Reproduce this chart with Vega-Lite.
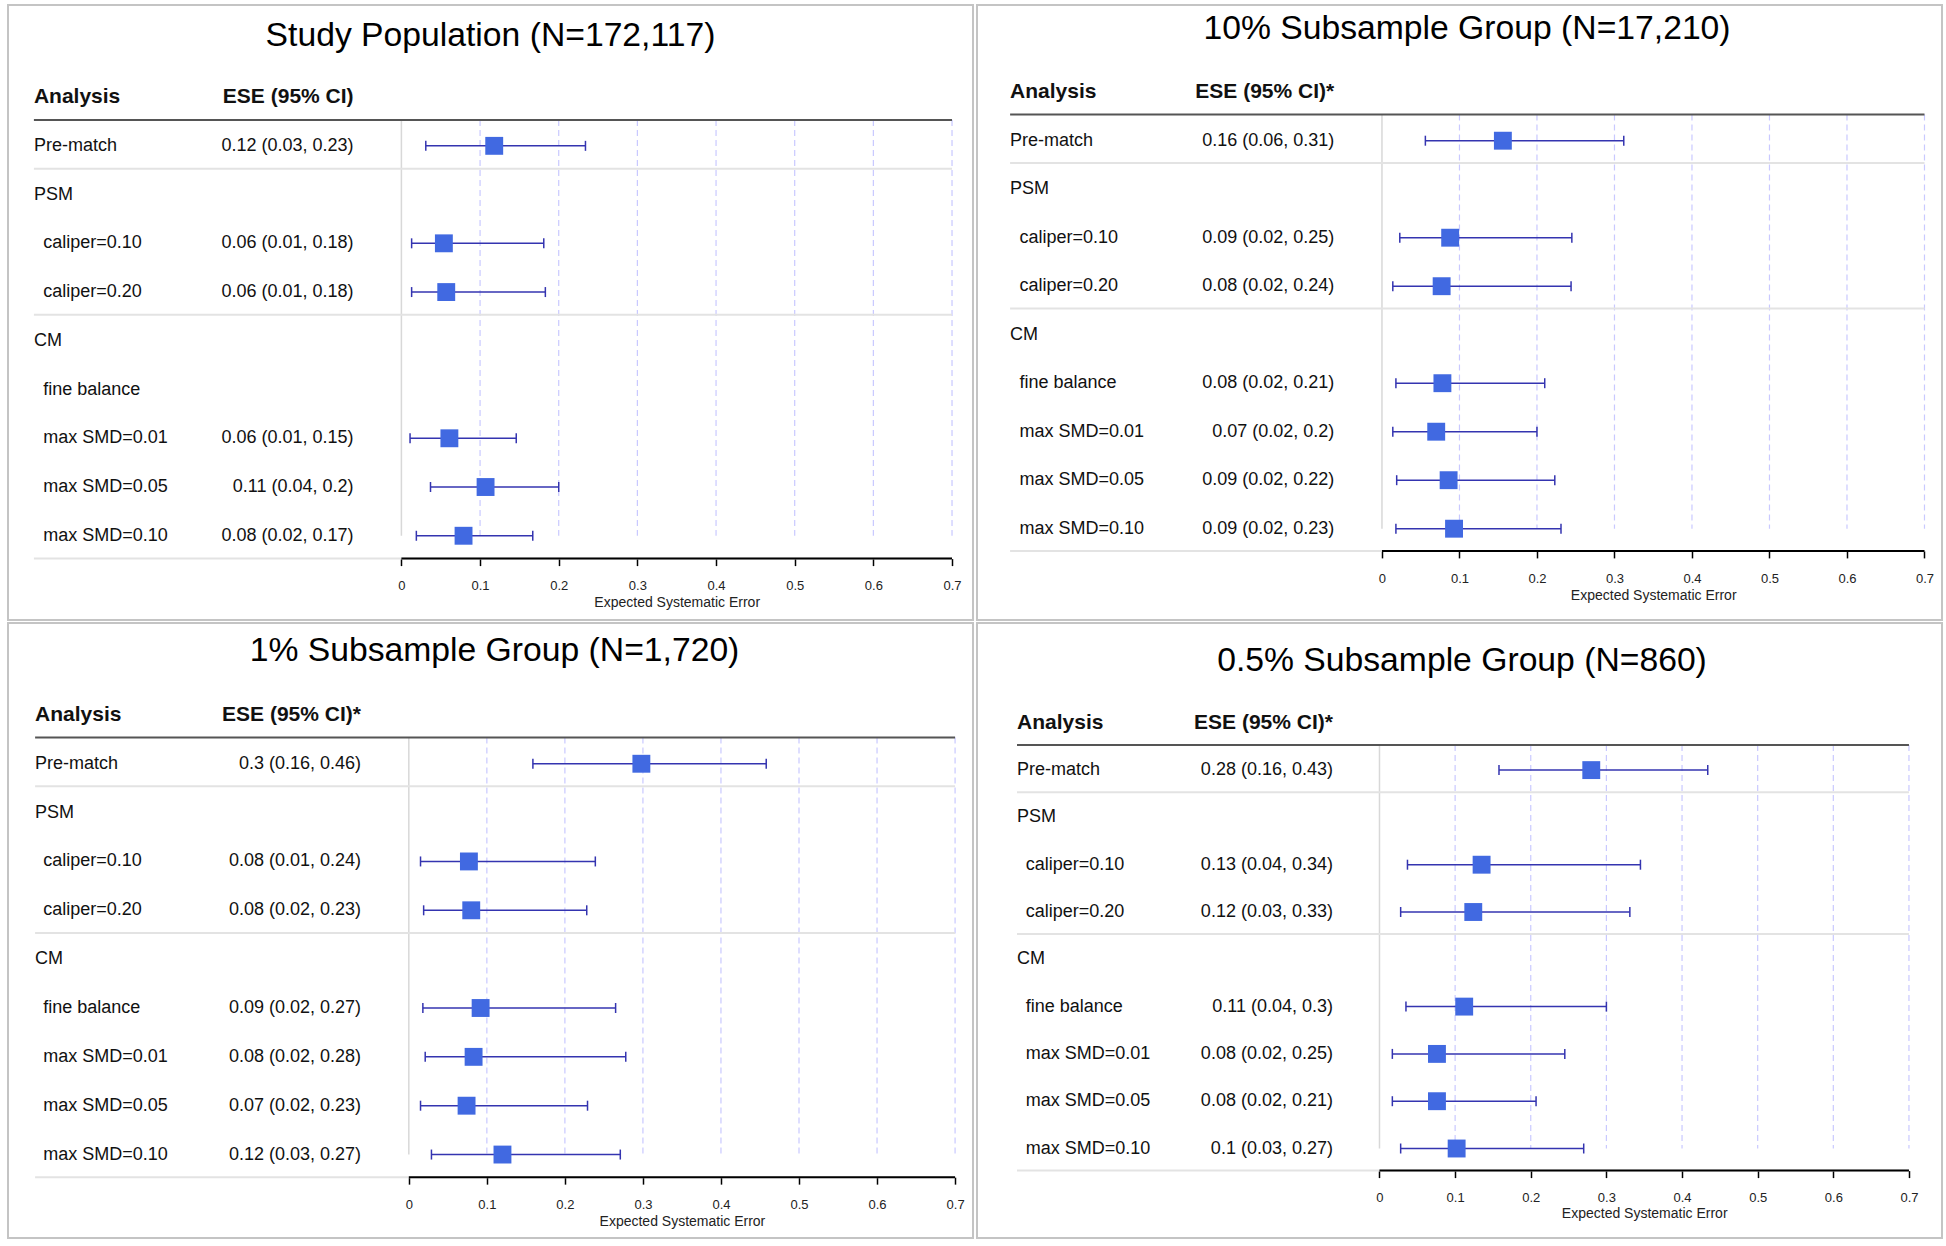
{
  "$schema": "https://vega.github.io/schema/vega-lite/v6.json",
  "padding": {"left": 7, "top": 4, "right": 0, "bottom": 0},
  "background": "white",
  "config": {
    "font": "Liberation Sans",
    "view": {"stroke": "#c4c4c4", "strokeWidth": 2},
    "title": {"fontSize": 33.7, "fontWeight": "normal", "font": "Liberation Sans", "color": "#000", "anchor": "middle"},
    "text": {"font": "Liberation Sans", "fontSize": 18, "color": "#111"}
  },
  "datasets": {
    "ticks": [{"v": 0}, {"v": 0.1}, {"v": 0.2}, {"v": 0.3}, {"v": 0.4}, {"v": 0.5}, {"v": 0.6}, {"v": 0.7}],
    "seps": [{"after": 0}, {"after": 1}, {"after": 4}, {"after": 9}],
    "study": [
      {"row": 0, "level": -1, "label": "Analysis", "ese": "ESE (95% CI)"},
      {"row": 1, "level": 0, "label": "Pre-match", "ese": "0.12 (0.03, 0.23)", "est": 0.118, "lo": 0.031, "hi": 0.234},
      {"row": 2, "level": 0, "label": "PSM"},
      {"row": 3, "level": 1, "label": "caliper=0.10", "ese": "0.06 (0.01, 0.18)", "est": 0.054, "lo": 0.013, "hi": 0.181},
      {"row": 4, "level": 1, "label": "caliper=0.20", "ese": "0.06 (0.01, 0.18)", "est": 0.057, "lo": 0.013, "hi": 0.183},
      {"row": 5, "level": 0, "label": "CM"},
      {"row": 6, "level": 1, "label": "fine balance"},
      {"row": 7, "level": 1, "label": "max SMD=0.01", "ese": "0.06 (0.01, 0.15)", "est": 0.061, "lo": 0.011, "hi": 0.146},
      {"row": 8, "level": 1, "label": "max SMD=0.05", "ese": "0.11 (0.04, 0.2)", "est": 0.107, "lo": 0.037, "hi": 0.200},
      {"row": 9, "level": 1, "label": "max SMD=0.10", "ese": "0.08 (0.02, 0.17)", "est": 0.079, "lo": 0.019, "hi": 0.167}
    ],
    "p10": [
      {"row": 0, "level": -1, "label": "Analysis", "ese": "ESE (95% CI)*"},
      {"row": 1, "level": 0, "label": "Pre-match", "ese": "0.16 (0.06, 0.31)", "est": 0.156, "lo": 0.056, "hi": 0.312},
      {"row": 2, "level": 0, "label": "PSM"},
      {"row": 3, "level": 1, "label": "caliper=0.10", "ese": "0.09 (0.02, 0.25)", "est": 0.088, "lo": 0.023, "hi": 0.245},
      {"row": 4, "level": 1, "label": "caliper=0.20", "ese": "0.08 (0.02, 0.24)", "est": 0.077, "lo": 0.014, "hi": 0.244},
      {"row": 5, "level": 0, "label": "CM"},
      {"row": 6, "level": 1, "label": "fine balance", "ese": "0.08 (0.02, 0.21)", "est": 0.078, "lo": 0.018, "hi": 0.210},
      {"row": 7, "level": 1, "label": "max SMD=0.01", "ese": "0.07 (0.02, 0.2)", "est": 0.070, "lo": 0.014, "hi": 0.200},
      {"row": 8, "level": 1, "label": "max SMD=0.05", "ese": "0.09 (0.02, 0.22)", "est": 0.086, "lo": 0.019, "hi": 0.223},
      {"row": 9, "level": 1, "label": "max SMD=0.10", "ese": "0.09 (0.02, 0.23)", "est": 0.093, "lo": 0.018, "hi": 0.231}
    ],
    "p1": [
      {"row": 0, "level": -1, "label": "Analysis", "ese": "ESE (95% CI)*"},
      {"row": 1, "level": 0, "label": "Pre-match", "ese": "0.3 (0.16, 0.46)", "est": 0.298, "lo": 0.159, "hi": 0.458},
      {"row": 2, "level": 0, "label": "PSM"},
      {"row": 3, "level": 1, "label": "caliper=0.10", "ese": "0.08 (0.01, 0.24)", "est": 0.077, "lo": 0.015, "hi": 0.239},
      {"row": 4, "level": 1, "label": "caliper=0.20", "ese": "0.08 (0.02, 0.23)", "est": 0.080, "lo": 0.019, "hi": 0.228},
      {"row": 5, "level": 0, "label": "CM"},
      {"row": 6, "level": 1, "label": "fine balance", "ese": "0.09 (0.02, 0.27)", "est": 0.092, "lo": 0.018, "hi": 0.265},
      {"row": 7, "level": 1, "label": "max SMD=0.01", "ese": "0.08 (0.02, 0.28)", "est": 0.083, "lo": 0.021, "hi": 0.278},
      {"row": 8, "level": 1, "label": "max SMD=0.05", "ese": "0.07 (0.02, 0.23)", "est": 0.074, "lo": 0.015, "hi": 0.229},
      {"row": 9, "level": 1, "label": "max SMD=0.10", "ese": "0.12 (0.03, 0.27)", "est": 0.120, "lo": 0.029, "hi": 0.271}
    ],
    "p05": [
      {"row": 0, "level": -1, "label": "Analysis", "ese": "ESE (95% CI)*"},
      {"row": 1, "level": 0, "label": "Pre-match", "ese": "0.28 (0.16, 0.43)", "est": 0.280, "lo": 0.158, "hi": 0.434},
      {"row": 2, "level": 0, "label": "PSM"},
      {"row": 3, "level": 1, "label": "caliper=0.10", "ese": "0.13 (0.04, 0.34)", "est": 0.135, "lo": 0.037, "hi": 0.345},
      {"row": 4, "level": 1, "label": "caliper=0.20", "ese": "0.12 (0.03, 0.33)", "est": 0.124, "lo": 0.028, "hi": 0.331},
      {"row": 5, "level": 0, "label": "CM"},
      {"row": 6, "level": 1, "label": "fine balance", "ese": "0.11 (0.04, 0.3)", "est": 0.112, "lo": 0.035, "hi": 0.300},
      {"row": 7, "level": 1, "label": "max SMD=0.01", "ese": "0.08 (0.02, 0.25)", "est": 0.076, "lo": 0.017, "hi": 0.245},
      {"row": 8, "level": 1, "label": "max SMD=0.05", "ese": "0.08 (0.02, 0.21)", "est": 0.076, "lo": 0.017, "hi": 0.207},
      {"row": 9, "level": 1, "label": "max SMD=0.10", "ese": "0.1 (0.03, 0.27)", "est": 0.102, "lo": 0.028, "hi": 0.270}
    ]
  },
  "spacing": 1,
  "vconcat": [
    {
      "spacing": 2,
      "hconcat": [
        {
          "width": 965, "height": 615,
          "title": {"text": "Study Population (N=172,117)", "offset": -47.3, "dx": 0},
          "data": {"name": "study"},
          "layer": [
            {"data": {"name": "ticks"}, "transform": [{"filter": "datum.v > 0"}],
             "mark": {"type": "rule", "color": "#C9C9FF", "strokeDash": [6, 4], "strokeWidth": 1.2, "yOffset": 22.8},
             "encoding": {
               "x": {"field": "v", "type": "quantitative", "scale": {"domain": [-0.50013, 0.72667], "nice": false, "zero": false, "padding": 0},
                 "axis": {"values": [0, 0.1, 0.2, 0.3, 0.4, 0.5, 0.6, 0.7], "format": "~g", "domain": false, "grid": false, "ticks": true, "tickSize": 7, "tickColor": "#000", "tickWidth": 1.5, "labelFontSize": 13, "labelColor": "#222", "labelPadding": 14.2, "labelFlush": false, "labelOverlap": false, "offset": -61.4, "title": "Expected Systematic Error", "titleFontSize": 14, "titleFontWeight": "normal", "titleColor": "#222", "titleX": 668.7, "titleY": 44.2, "titleAlign": "center", "titleBaseline": "middle"}},
               "y": {"datum": 0, "type": "quantitative", "scale": {"domain": [-1.8896, 10.7283], "reverse": true, "nice": false, "zero": false}, "axis": null},
               "y2": {"datum": 9}
             }},
            {"data": {"name": "ticks"}, "transform": [{"filter": "datum.v == 0"}],
             "mark": {"type": "rule", "color": "#D8D8D8", "strokeWidth": 1.5, "yOffset": 22.8},
             "encoding": {"x": {"field": "v", "type": "quantitative"}, "y": {"datum": 0, "type": "quantitative", "axis": null}, "y2": {"datum": 9}}},
            {"data": {"name": "seps"}, "transform": [{"filter": "datum.after > 0"}],
             "mark": {"type": "rule", "color": "#E3E3E3", "strokeWidth": 2, "yOffset": 22.8},
             "encoding": {"x": {"datum": -0.4672, "type": "quantitative"}, "x2": {"datum": 0.7}, "y": {"field": "after", "type": "quantitative", "axis": null}}},
            {"data": {"name": "seps"}, "transform": [{"filter": "datum.after == 0"}],
             "mark": {"type": "rule", "color": "#555555", "strokeWidth": 2, "yOffset": 22.8},
             "encoding": {"x": {"datum": -0.4672, "type": "quantitative"}, "x2": {"datum": 0.7}, "y": {"field": "after", "type": "quantitative", "axis": null}}},
            {"data": {"name": "seps"}, "transform": [{"filter": "datum.after == 9"}],
             "mark": {"type": "rule", "color": "#000", "strokeWidth": 2, "yOffset": 22.8},
             "encoding": {"x": {"datum": 0, "type": "quantitative"}, "x2": {"datum": 0.7}, "y": {"field": "after", "type": "quantitative", "axis": null}}},
            {"transform": [{"filter": "isValid(datum.est)"}],
             "mark": {"type": "rule", "color": "#3434B0", "strokeWidth": 1.5},
             "encoding": {"x": {"field": "lo", "type": "quantitative"}, "x2": {"field": "hi"}, "y": {"field": "row", "type": "quantitative", "axis": null}}},
            {"transform": [{"filter": "isValid(datum.est)"}],
             "mark": {"type": "point", "shape": "M0,-1L0,1", "size": 100, "filled": false, "stroke": "#3434B0", "strokeWidth": 1.5, "opacity": 1},
             "encoding": {"x": {"field": "lo", "type": "quantitative"}, "y": {"field": "row", "type": "quantitative", "axis": null}}},
            {"transform": [{"filter": "isValid(datum.est)"}],
             "mark": {"type": "point", "shape": "M0,-1L0,1", "size": 100, "filled": false, "stroke": "#3434B0", "strokeWidth": 1.5, "opacity": 1},
             "encoding": {"x": {"field": "hi", "type": "quantitative"}, "y": {"field": "row", "type": "quantitative", "axis": null}}},
            {"transform": [{"filter": "isValid(datum.est)"}],
             "mark": {"type": "point", "shape": "square", "filled": true, "size": 320, "color": "#4169E1", "opacity": 1},
             "encoding": {"x": {"field": "est", "type": "quantitative"}, "y": {"field": "row", "type": "quantitative", "axis": null}}},
            {"transform": [{"filter": "datum.level == -1"}],
             "mark": {"type": "text", "align": "left", "baseline": "middle", "fontSize": 21, "fontWeight": "bold"},
             "encoding": {"x": {"datum": -0.4672, "type": "quantitative"}, "y": {"field": "row", "type": "quantitative", "axis": null}, "text": {"field": "label"}}},
            {"transform": [{"filter": "datum.level == -1"}],
             "mark": {"type": "text", "align": "right", "baseline": "middle", "fontSize": 21, "fontWeight": "bold"},
             "encoding": {"x": {"datum": -0.0608, "type": "quantitative"}, "y": {"field": "row", "type": "quantitative", "axis": null}, "text": {"field": "ese"}}},
            {"transform": [{"filter": "datum.level == 0"}],
             "mark": {"type": "text", "align": "left", "baseline": "middle"},
             "encoding": {"x": {"datum": -0.4672, "type": "quantitative"}, "y": {"field": "row", "type": "quantitative", "axis": null}, "text": {"field": "label"}}},
            {"transform": [{"filter": "datum.level == 1"}],
             "mark": {"type": "text", "align": "left", "baseline": "middle"},
             "encoding": {"x": {"datum": -0.4554, "type": "quantitative"}, "y": {"field": "row", "type": "quantitative", "axis": null}, "text": {"field": "label"}}},
            {"transform": [{"filter": "datum.level >= 0 && isValid(datum.ese)"}],
             "mark": {"type": "text", "align": "right", "baseline": "middle"},
             "encoding": {"x": {"datum": -0.0608, "type": "quantitative"}, "y": {"field": "row", "type": "quantitative", "axis": null}, "text": {"field": "ese"}}}
          ]
        },
        {
          "width": 965, "height": 615,
          "title": {"text": "10% Subsample Group (N=17,210)", "offset": -40.2, "dx": 7.5},
          "data": {"name": "p10"},
          "layer": [
            {"data": {"name": "ticks"}, "transform": [{"filter": "datum.v > 0"}],
             "mark": {"type": "rule", "color": "#C9C9FF", "strokeDash": [6, 4], "strokeWidth": 1.2, "yOffset": 22.2},
             "encoding": {
               "x": {"field": "v", "type": "quantitative", "scale": {"domain": [-0.52251, 0.72260], "nice": false, "zero": false, "padding": 0},
                 "axis": {"values": [0, 0.1, 0.2, 0.3, 0.4, 0.5, 0.6, 0.7], "format": "~g", "domain": false, "grid": false, "ticks": true, "tickSize": 7, "tickColor": "#000", "tickWidth": 1.5, "labelFontSize": 13, "labelColor": "#222", "labelPadding": 14.8, "labelFlush": false, "labelOverlap": false, "offset": -69.1, "title": "Expected Systematic Error", "titleFontSize": 14, "titleFontWeight": "normal", "titleColor": "#222", "titleX": 676.2, "titleY": 44.1, "titleAlign": "center", "titleBaseline": "middle"}},
               "y": {"datum": 0, "type": "quantitative", "scale": {"domain": [-1.798, 10.8825], "reverse": true, "nice": false, "zero": false}, "axis": null},
               "y2": {"datum": 9}
             }},
            {"data": {"name": "ticks"}, "transform": [{"filter": "datum.v == 0"}],
             "mark": {"type": "rule", "color": "#D8D8D8", "strokeWidth": 1.5, "yOffset": 22.2},
             "encoding": {"x": {"field": "v", "type": "quantitative"}, "y": {"datum": 0, "type": "quantitative", "axis": null}, "y2": {"datum": 9}}},
            {"data": {"name": "seps"}, "transform": [{"filter": "datum.after > 0"}],
             "mark": {"type": "rule", "color": "#E3E3E3", "strokeWidth": 2, "yOffset": 22.2},
             "encoding": {"x": {"datum": -0.4798, "type": "quantitative"}, "x2": {"datum": 0.7}, "y": {"field": "after", "type": "quantitative", "axis": null}}},
            {"data": {"name": "seps"}, "transform": [{"filter": "datum.after == 0"}],
             "mark": {"type": "rule", "color": "#555555", "strokeWidth": 2, "yOffset": 22.2},
             "encoding": {"x": {"datum": -0.4798, "type": "quantitative"}, "x2": {"datum": 0.7}, "y": {"field": "after", "type": "quantitative", "axis": null}}},
            {"data": {"name": "seps"}, "transform": [{"filter": "datum.after == 9"}],
             "mark": {"type": "rule", "color": "#000", "strokeWidth": 2, "yOffset": 22.2},
             "encoding": {"x": {"datum": 0, "type": "quantitative"}, "x2": {"datum": 0.7}, "y": {"field": "after", "type": "quantitative", "axis": null}}},
            {"transform": [{"filter": "isValid(datum.est)"}],
             "mark": {"type": "rule", "color": "#3434B0", "strokeWidth": 1.5},
             "encoding": {"x": {"field": "lo", "type": "quantitative"}, "x2": {"field": "hi"}, "y": {"field": "row", "type": "quantitative", "axis": null}}},
            {"transform": [{"filter": "isValid(datum.est)"}],
             "mark": {"type": "point", "shape": "M0,-1L0,1", "size": 100, "filled": false, "stroke": "#3434B0", "strokeWidth": 1.5, "opacity": 1},
             "encoding": {"x": {"field": "lo", "type": "quantitative"}, "y": {"field": "row", "type": "quantitative", "axis": null}}},
            {"transform": [{"filter": "isValid(datum.est)"}],
             "mark": {"type": "point", "shape": "M0,-1L0,1", "size": 100, "filled": false, "stroke": "#3434B0", "strokeWidth": 1.5, "opacity": 1},
             "encoding": {"x": {"field": "hi", "type": "quantitative"}, "y": {"field": "row", "type": "quantitative", "axis": null}}},
            {"transform": [{"filter": "isValid(datum.est)"}],
             "mark": {"type": "point", "shape": "square", "filled": true, "size": 320, "color": "#4169E1", "opacity": 1},
             "encoding": {"x": {"field": "est", "type": "quantitative"}, "y": {"field": "row", "type": "quantitative", "axis": null}}},
            {"transform": [{"filter": "datum.level == -1"}],
             "mark": {"type": "text", "align": "left", "baseline": "middle", "fontSize": 21, "fontWeight": "bold"},
             "encoding": {"x": {"datum": -0.4798, "type": "quantitative"}, "y": {"field": "row", "type": "quantitative", "axis": null}, "text": {"field": "label"}}},
            {"transform": [{"filter": "datum.level == -1"}],
             "mark": {"type": "text", "align": "right", "baseline": "middle", "fontSize": 21, "fontWeight": "bold"},
             "encoding": {"x": {"datum": -0.0616, "type": "quantitative"}, "y": {"field": "row", "type": "quantitative", "axis": null}, "text": {"field": "ese"}}},
            {"transform": [{"filter": "datum.level == 0"}],
             "mark": {"type": "text", "align": "left", "baseline": "middle"},
             "encoding": {"x": {"datum": -0.4798, "type": "quantitative"}, "y": {"field": "row", "type": "quantitative", "axis": null}, "text": {"field": "label"}}},
            {"transform": [{"filter": "datum.level == 1"}],
             "mark": {"type": "text", "align": "left", "baseline": "middle"},
             "encoding": {"x": {"datum": -0.4677, "type": "quantitative"}, "y": {"field": "row", "type": "quantitative", "axis": null}, "text": {"field": "label"}}},
            {"transform": [{"filter": "datum.level >= 0 && isValid(datum.ese)"}],
             "mark": {"type": "text", "align": "right", "baseline": "middle"},
             "encoding": {"x": {"datum": -0.0616, "type": "quantitative"}, "y": {"field": "row", "type": "quantitative", "axis": null}, "text": {"field": "ese"}}}
          ]
        }
      ]
    },
    {
      "spacing": 2,
      "hconcat": [
        {
          "width": 965, "height": 615,
          "title": {"text": "1% Subsample Group (N=1,720)", "offset": -44.4, "dx": 4},
          "data": {"name": "p1"},
          "layer": [
            {"data": {"name": "ticks"}, "transform": [{"filter": "datum.v > 0"}],
             "mark": {"type": "rule", "color": "#C9C9FF", "strokeDash": [6, 4], "strokeWidth": 1.2, "yOffset": 22.6},
             "encoding": {
               "x": {"field": "v", "type": "quantitative", "scale": {"domain": [-0.51363, 0.72297], "nice": false, "zero": false, "padding": 0},
                 "axis": {"values": [0, 0.1, 0.2, 0.3, 0.4, 0.5, 0.6, 0.7], "format": "~g", "domain": false, "grid": false, "ticks": true, "tickSize": 7, "tickColor": "#000", "tickWidth": 1.5, "labelFontSize": 13, "labelColor": "#222", "labelPadding": 14, "labelFlush": false, "labelOverlap": false, "offset": -60.85, "title": "Expected Systematic Error", "titleFontSize": 14, "titleFontWeight": "normal", "titleColor": "#222", "titleX": 673.9, "titleY": 44.6, "titleAlign": "center", "titleBaseline": "middle"}},
               "y": {"datum": 0, "type": "quantitative", "scale": {"domain": [-1.8813, 10.7083], "reverse": true, "nice": false, "zero": false}, "axis": null},
               "y2": {"datum": 9}
             }},
            {"data": {"name": "ticks"}, "transform": [{"filter": "datum.v == 0"}],
             "mark": {"type": "rule", "color": "#D8D8D8", "strokeWidth": 1.5, "yOffset": 22.6},
             "encoding": {"x": {"field": "v", "type": "quantitative"}, "y": {"datum": 0, "type": "quantitative", "axis": null}, "y2": {"datum": 9}}},
            {"data": {"name": "seps"}, "transform": [{"filter": "datum.after > 0"}],
             "mark": {"type": "rule", "color": "#E3E3E3", "strokeWidth": 2, "yOffset": 22.6},
             "encoding": {"x": {"datum": -0.4789, "type": "quantitative"}, "x2": {"datum": 0.7}, "y": {"field": "after", "type": "quantitative", "axis": null}}},
            {"data": {"name": "seps"}, "transform": [{"filter": "datum.after == 0"}],
             "mark": {"type": "rule", "color": "#555555", "strokeWidth": 2, "yOffset": 22.6},
             "encoding": {"x": {"datum": -0.4789, "type": "quantitative"}, "x2": {"datum": 0.7}, "y": {"field": "after", "type": "quantitative", "axis": null}}},
            {"data": {"name": "seps"}, "transform": [{"filter": "datum.after == 9"}],
             "mark": {"type": "rule", "color": "#000", "strokeWidth": 2, "yOffset": 22.6},
             "encoding": {"x": {"datum": 0, "type": "quantitative"}, "x2": {"datum": 0.7}, "y": {"field": "after", "type": "quantitative", "axis": null}}},
            {"transform": [{"filter": "isValid(datum.est)"}],
             "mark": {"type": "rule", "color": "#3434B0", "strokeWidth": 1.5},
             "encoding": {"x": {"field": "lo", "type": "quantitative"}, "x2": {"field": "hi"}, "y": {"field": "row", "type": "quantitative", "axis": null}}},
            {"transform": [{"filter": "isValid(datum.est)"}],
             "mark": {"type": "point", "shape": "M0,-1L0,1", "size": 100, "filled": false, "stroke": "#3434B0", "strokeWidth": 1.5, "opacity": 1},
             "encoding": {"x": {"field": "lo", "type": "quantitative"}, "y": {"field": "row", "type": "quantitative", "axis": null}}},
            {"transform": [{"filter": "isValid(datum.est)"}],
             "mark": {"type": "point", "shape": "M0,-1L0,1", "size": 100, "filled": false, "stroke": "#3434B0", "strokeWidth": 1.5, "opacity": 1},
             "encoding": {"x": {"field": "hi", "type": "quantitative"}, "y": {"field": "row", "type": "quantitative", "axis": null}}},
            {"transform": [{"filter": "isValid(datum.est)"}],
             "mark": {"type": "point", "shape": "square", "filled": true, "size": 320, "color": "#4169E1", "opacity": 1},
             "encoding": {"x": {"field": "est", "type": "quantitative"}, "y": {"field": "row", "type": "quantitative", "axis": null}}},
            {"transform": [{"filter": "datum.level == -1"}],
             "mark": {"type": "text", "align": "left", "baseline": "middle", "fontSize": 21, "fontWeight": "bold"},
             "encoding": {"x": {"datum": -0.4789, "type": "quantitative"}, "y": {"field": "row", "type": "quantitative", "axis": null}, "text": {"field": "label"}}},
            {"transform": [{"filter": "datum.level == -1"}],
             "mark": {"type": "text", "align": "right", "baseline": "middle", "fontSize": 21, "fontWeight": "bold"},
             "encoding": {"x": {"datum": -0.0613, "type": "quantitative"}, "y": {"field": "row", "type": "quantitative", "axis": null}, "text": {"field": "ese"}}},
            {"transform": [{"filter": "datum.level == 0"}],
             "mark": {"type": "text", "align": "left", "baseline": "middle"},
             "encoding": {"x": {"datum": -0.4789, "type": "quantitative"}, "y": {"field": "row", "type": "quantitative", "axis": null}, "text": {"field": "label"}}},
            {"transform": [{"filter": "datum.level == 1"}],
             "mark": {"type": "text", "align": "left", "baseline": "middle"},
             "encoding": {"x": {"datum": -0.4685, "type": "quantitative"}, "y": {"field": "row", "type": "quantitative", "axis": null}, "text": {"field": "label"}}},
            {"transform": [{"filter": "datum.level >= 0 && isValid(datum.ese)"}],
             "mark": {"type": "text", "align": "right", "baseline": "middle"},
             "encoding": {"x": {"datum": -0.0613, "type": "quantitative"}, "y": {"field": "row", "type": "quantitative", "axis": null}, "text": {"field": "ese"}}}
          ]
        },
        {
          "width": 965, "height": 615,
          "title": {"text": "0.5% Subsample Group (N=860)", "offset": -54.4, "dx": 2.5},
          "data": {"name": "p05"},
          "layer": [
            {"data": {"name": "ticks"}, "transform": [{"filter": "datum.v > 0"}],
             "mark": {"type": "rule", "color": "#C9C9FF", "strokeDash": [6, 4], "strokeWidth": 1.2, "yOffset": 22.1},
             "encoding": {
               "x": {"field": "v", "type": "quantitative", "scale": {"domain": [-0.5321, 0.74368], "nice": false, "zero": false, "padding": 0},
                 "axis": {"values": [0, 0.1, 0.2, 0.3, 0.4, 0.5, 0.6, 0.7], "format": "~g", "domain": false, "grid": false, "ticks": true, "tickSize": 7, "tickColor": "#000", "tickWidth": 1.5, "labelFontSize": 13, "labelColor": "#222", "labelPadding": 13.5, "labelFlush": false, "labelOverlap": false, "offset": -67.4, "title": "Expected Systematic Error", "titleFontSize": 14, "titleFontWeight": "normal", "titleColor": "#222", "titleX": 667.2, "titleY": 43.2, "titleAlign": "center", "titleBaseline": "middle"}},
               "y": {"datum": 0, "type": "quantitative", "scale": {"domain": [-2.110, 10.892], "reverse": true, "nice": false, "zero": false}, "axis": null},
               "y2": {"datum": 9}
             }},
            {"data": {"name": "ticks"}, "transform": [{"filter": "datum.v == 0"}],
             "mark": {"type": "rule", "color": "#D8D8D8", "strokeWidth": 1.5, "yOffset": 22.1},
             "encoding": {"x": {"field": "v", "type": "quantitative"}, "y": {"datum": 0, "type": "quantitative", "axis": null}, "y2": {"datum": 9}}},
            {"data": {"name": "seps"}, "transform": [{"filter": "datum.after > 0"}],
             "mark": {"type": "rule", "color": "#E3E3E3", "strokeWidth": 2, "yOffset": 22.1},
             "encoding": {"x": {"datum": -0.4792, "type": "quantitative"}, "x2": {"datum": 0.7}, "y": {"field": "after", "type": "quantitative", "axis": null}}},
            {"data": {"name": "seps"}, "transform": [{"filter": "datum.after == 0"}],
             "mark": {"type": "rule", "color": "#555555", "strokeWidth": 2, "yOffset": 22.1},
             "encoding": {"x": {"datum": -0.4792, "type": "quantitative"}, "x2": {"datum": 0.7}, "y": {"field": "after", "type": "quantitative", "axis": null}}},
            {"data": {"name": "seps"}, "transform": [{"filter": "datum.after == 9"}],
             "mark": {"type": "rule", "color": "#000", "strokeWidth": 2, "yOffset": 22.1},
             "encoding": {"x": {"datum": 0, "type": "quantitative"}, "x2": {"datum": 0.7}, "y": {"field": "after", "type": "quantitative", "axis": null}}},
            {"transform": [{"filter": "isValid(datum.est)"}],
             "mark": {"type": "rule", "color": "#3434B0", "strokeWidth": 1.5},
             "encoding": {"x": {"field": "lo", "type": "quantitative"}, "x2": {"field": "hi"}, "y": {"field": "row", "type": "quantitative", "axis": null}}},
            {"transform": [{"filter": "isValid(datum.est)"}],
             "mark": {"type": "point", "shape": "M0,-1L0,1", "size": 100, "filled": false, "stroke": "#3434B0", "strokeWidth": 1.5, "opacity": 1},
             "encoding": {"x": {"field": "lo", "type": "quantitative"}, "y": {"field": "row", "type": "quantitative", "axis": null}}},
            {"transform": [{"filter": "isValid(datum.est)"}],
             "mark": {"type": "point", "shape": "M0,-1L0,1", "size": 100, "filled": false, "stroke": "#3434B0", "strokeWidth": 1.5, "opacity": 1},
             "encoding": {"x": {"field": "hi", "type": "quantitative"}, "y": {"field": "row", "type": "quantitative", "axis": null}}},
            {"transform": [{"filter": "isValid(datum.est)"}],
             "mark": {"type": "point", "shape": "square", "filled": true, "size": 320, "color": "#4169E1", "opacity": 1},
             "encoding": {"x": {"field": "est", "type": "quantitative"}, "y": {"field": "row", "type": "quantitative", "axis": null}}},
            {"transform": [{"filter": "datum.level == -1"}],
             "mark": {"type": "text", "align": "left", "baseline": "middle", "fontSize": 21, "fontWeight": "bold"},
             "encoding": {"x": {"datum": -0.4792, "type": "quantitative"}, "y": {"field": "row", "type": "quantitative", "axis": null}, "text": {"field": "label"}}},
            {"transform": [{"filter": "datum.level == -1"}],
             "mark": {"type": "text", "align": "right", "baseline": "middle", "fontSize": 21, "fontWeight": "bold"},
             "encoding": {"x": {"datum": -0.0615, "type": "quantitative"}, "y": {"field": "row", "type": "quantitative", "axis": null}, "text": {"field": "ese"}}},
            {"transform": [{"filter": "datum.level == 0"}],
             "mark": {"type": "text", "align": "left", "baseline": "middle"},
             "encoding": {"x": {"datum": -0.4792, "type": "quantitative"}, "y": {"field": "row", "type": "quantitative", "axis": null}, "text": {"field": "label"}}},
            {"transform": [{"filter": "datum.level == 1"}],
             "mark": {"type": "text", "align": "left", "baseline": "middle"},
             "encoding": {"x": {"datum": -0.4677, "type": "quantitative"}, "y": {"field": "row", "type": "quantitative", "axis": null}, "text": {"field": "label"}}},
            {"transform": [{"filter": "datum.level >= 0 && isValid(datum.ese)"}],
             "mark": {"type": "text", "align": "right", "baseline": "middle"},
             "encoding": {"x": {"datum": -0.0615, "type": "quantitative"}, "y": {"field": "row", "type": "quantitative", "axis": null}, "text": {"field": "ese"}}}
          ]
        }
      ]
    }
  ]
}
